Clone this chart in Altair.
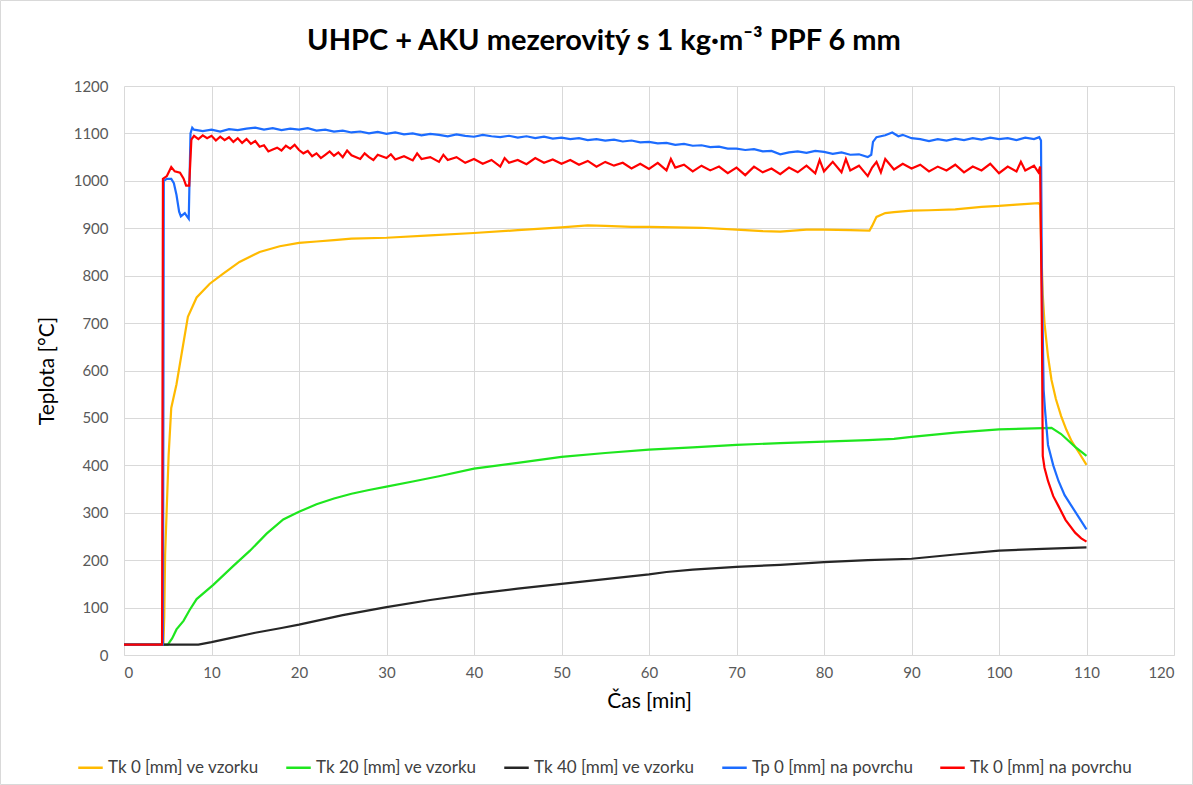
import altair as alt
import pandas as pd

series_names = [
    "Tk 0 [mm] ve vzorku",
    "Tk 20 [mm] ve vzorku",
    "Tk 40 [mm] ve vzorku",
    "Tp 0 [mm] na povrchu",
    "Tk 0 [mm] na povrchu",
]
series_colors = ["#FFBA00", "#1EE61E", "#262626", "#1C6CFF", "#FF0000"]

orange_t = [0, 4.5, 4.6, 4.7, 5.1, 5.4, 6.0, 6.6, 7.3, 8.3, 9.8, 11.3, 13.2, 15.5, 17.8, 20, 22, 24, 26, 30,
            35, 40, 45, 50, 53, 55, 58, 60, 63, 66, 70, 73, 75, 78, 80, 83, 85.2, 85.5, 86, 87, 88, 90, 92, 95,
            98, 100, 102, 104.5, 104.7, 104.8, 105.0, 105.2, 105.6, 106, 106.5, 107.1, 107.7, 108.3, 109.2, 110]
orange_v = [22, 22, 80, 212, 421, 521, 571, 637, 713, 754, 783, 804, 829, 850, 862, 869, 872, 875, 878, 880,
            885, 890, 896, 902, 906, 905, 903, 903, 902, 901, 897, 894, 893, 897, 897, 896, 895, 905, 924, 932,
            934, 937, 938, 940, 945, 947, 950, 953, 950, 880, 760, 700, 630, 580, 540, 504, 475, 451, 425, 401]

green_t = [0, 5.0, 5.5, 6.0, 6.8, 7.5, 8.3, 10.2, 12.5, 14.4, 16.3, 18.2, 20, 22, 24, 26, 28, 30, 33, 36, 40,
           45, 50, 55, 60, 65, 70, 75, 80, 85, 88, 90, 95, 100, 104, 106, 107.1, 108.7, 110]
green_v = [22, 22, 35, 54, 72, 95, 118, 148, 188, 220, 256, 286, 302, 318, 330, 340, 348, 355, 366, 377, 393,
           405, 418, 426, 433, 438, 443, 447, 450, 453, 456, 460, 469, 476, 478, 479, 466, 439, 420]

black_t = [0, 8.5, 10, 12, 15, 18, 20, 25, 30, 35, 40, 45, 50, 55, 60, 62, 65, 70, 75, 80, 85, 90, 95, 100,
           105, 110]
black_v = [22, 22, 27, 35, 47, 57, 64, 84, 101, 116, 129, 140, 150, 160, 170, 175, 180, 186, 190, 196, 200,
           203, 212, 220, 224, 227]

blue_t = [0, 4.45, 4.55, 4.9, 5.4, 5.7, 6.0, 6.3, 6.5, 6.95, 7.2, 7.4, 7.6, 7.8,
          8, 9, 10, 11, 12, 13, 14, 15, 16, 17, 18, 19, 20, 21, 22, 23, 24, 25, 26, 27, 28, 29, 30,
          31, 32, 33, 34, 35, 36, 37, 38, 39, 40, 41, 42, 43, 44, 45, 46, 47, 48, 49, 50,
          51, 52, 53, 54, 55, 56, 57, 58, 59, 60, 61, 62, 63, 64, 65, 66, 67, 68, 69, 70,
          71, 72, 73, 74, 75, 76, 77, 78, 79, 80, 81, 82, 83, 84, 85, 85.4, 85.6, 86, 87, 87.8, 88.5, 89, 90,
          91, 92, 93, 94, 95, 96, 97, 98, 99, 100, 101, 102, 103, 104, 104.6, 104.8, 104.9, 105.1, 105.25,
          105.6, 106.2, 106.8, 107.5, 108.3, 109.2, 110]
blue_v = [22, 22, 1000, 1004, 1004, 995, 970, 935, 925, 932, 925, 920, 1100, 1112,
          1108, 1105, 1108, 1104, 1109, 1107, 1110, 1112, 1108, 1111, 1107, 1110, 1108, 1111, 1106, 1108, 1104,
          1106, 1102, 1104, 1100, 1103, 1099,
          1102, 1098, 1100, 1096, 1099, 1097, 1094, 1098, 1095, 1093, 1097, 1094, 1092, 1095, 1091, 1094, 1090,
          1093, 1089, 1091,
          1088, 1090, 1086, 1088, 1085, 1087, 1083, 1085, 1081, 1082, 1079, 1080, 1076, 1078, 1074, 1075, 1071,
          1072, 1068, 1068,
          1065, 1067, 1062, 1063, 1056, 1060, 1062, 1059, 1063, 1061, 1057, 1060, 1055, 1056, 1050, 1055, 1082,
          1092, 1096, 1102, 1094, 1097, 1090,
          1088, 1084, 1088, 1085, 1089, 1086, 1090, 1087, 1091, 1088, 1090, 1086, 1091, 1088, 1092, 1085, 800,
          560, 519,
          443, 400, 367, 337, 314, 288, 265]

red_t = [0, 4.35, 4.45, 4.9, 5.4, 5.8, 6.4, 6.8, 7.1, 7.45, 7.7, 8,
         8.5, 9, 9.5, 10, 10.5, 11, 11.5, 12, 12.5, 13, 13.5, 14, 14.5, 15, 15.5, 16, 16.5, 17, 17.5, 18, 18.5,
         19, 19.5, 20, 20.5, 21, 21.5, 22, 22.5, 23, 23.5, 24, 24.5, 25, 25.5, 26, 27, 27.5, 28, 28.5, 29, 30,
         30.5, 31, 32, 33, 33.5, 34, 35, 36, 36.5, 37, 38, 39, 40, 41, 42, 43, 43.5, 44, 45, 46, 47, 48, 49, 50,
         51, 52, 53, 54, 55, 56, 57, 58, 59, 60, 61, 62, 62.5, 63, 64, 65, 66, 67, 68, 69, 70, 71, 72, 73, 74,
         75, 76, 77, 78, 79, 79.5, 80, 81, 82, 82.5, 83, 84, 85, 85.5, 86, 86.5, 87, 88, 89, 90, 91, 92, 93, 94,
         95, 96, 97, 98, 99, 100, 101, 102, 102.5, 103, 104, 104.5, 104.7, 104.9, 105.0, 105.2, 105.6, 106.2,
         106.8, 107.6, 108.7, 109.4, 110]
red_v = [22, 22, 1004, 1010, 1029, 1020, 1017, 1005, 990, 990, 1087, 1095,
         1088, 1096, 1090, 1095, 1085, 1093, 1086, 1092, 1082, 1090, 1080, 1088, 1078, 1084, 1072, 1075, 1062,
         1066, 1070, 1064, 1074, 1068, 1076, 1065, 1058, 1063, 1052, 1058, 1048, 1055, 1062, 1053, 1060, 1050,
         1064, 1054, 1046, 1058, 1050, 1044, 1055, 1048, 1056, 1045, 1052, 1043, 1058, 1046, 1050, 1040, 1055,
         1044, 1050, 1038, 1046, 1036, 1044, 1030, 1048, 1038, 1044, 1035, 1048, 1038, 1045, 1036, 1044, 1034,
         1042, 1030, 1040, 1032, 1038, 1026, 1036, 1025, 1038, 1022, 1046, 1028, 1034, 1020, 1032, 1022, 1030,
         1016, 1028, 1012, 1030, 1018, 1026, 1014, 1028, 1018, 1032, 1016, 1044, 1020, 1040, 1018, 1046, 1022,
         1032, 1010, 1028, 1040, 1018, 1046, 1024, 1036, 1026, 1034, 1020, 1030, 1022, 1034, 1018, 1030, 1022,
         1036, 1016, 1030, 1020, 1040, 1022, 1032, 1018, 1030, 700, 420, 395, 367, 335, 314, 285, 258, 246, 239]

x_ticks = list(range(0, 121, 10))
y_ticks = list(range(0, 1201, 100))

all_t = [orange_t, green_t, black_t, blue_t, red_t]
all_v = [orange_v, green_v, black_v, blue_v, red_v]
rows = []
for name, ts, vs in zip(series_names, all_t, all_v):
    for i, (t, v) in enumerate(zip(ts, vs)):
        rows.append({"series": name, "t": t, "T": v, "i": i})
df = pd.DataFrame(rows)

FONT = "Lato"
color_scale = alt.Scale(domain=series_names, range=series_colors)

base = alt.Chart(df).mark_line(strokeWidth=2.2).encode(
    x=alt.X("t:Q", scale=alt.Scale(domain=[0, 120], nice=False),
            axis=alt.Axis(values=x_ticks, title="Čas [min]", format="d")),
    y=alt.Y("T:Q", scale=alt.Scale(domain=[0, 1200], nice=False),
            axis=alt.Axis(values=y_ticks, title="Teplota [°C]", format="d")),
    color=alt.Color("series:N", scale=color_scale, sort=series_names,
                    legend=alt.Legend(title=None, orient="none", direction="horizontal",
                                      legendX=-47, legendY=668, symbolType="stroke",
                                      symbolStrokeWidth=2.5, symbolSize=600,
                                      labelFontSize=17, labelFont=FONT, labelColor="#404040",
                                      labelLimit=400, columnPadding=22, labelOffset=4)),
    order="i:Q",
)

layers = [base.transform_filter(alt.datum.series == n) for n in series_names]

frame_df = pd.DataFrame({"k": [0]})
frame = alt.Chart(frame_df).mark_rect(fillOpacity=0, stroke="#D9D9D9", strokeWidth=1).encode(
    x=alt.value(-123.5), x2=alt.value(1068.5), y=alt.value(-85.5), y2=alt.value(698.5)
)

chart = alt.layer(frame, *layers).properties(
    width=1050, height=569,
    padding={"left": 124, "top": 86, "right": 19, "bottom": 130},
    autosize=alt.AutoSizeParams(type="none"),
    background="white",
    title=alt.TitleParams(text=["UHPC + AKU mezerovitý s 1 kg·m⁻³ PPF 6 mm"], fontSize=29, font=FONT,
                          fontWeight="bold", color="#000000", anchor="middle", frame="group",
                          dx=-45, offset=-56),
).configure_view(strokeWidth=0).configure_axis(
    grid=True, gridColor="#D9D9D9", gridWidth=1, ticks=False, domain=False,
    labelFont=FONT, labelFontSize=15, labelColor="#595959", titleFont=FONT, titleFontSize=21,
    titleFontWeight="normal", titleColor="#000000",
).configure_axisX(domain=True, domainColor="#D9D9D9", labelPadding=10, titlePadding=10
).configure_axisY(labelPadding=16, titlePadding=16)

chart.save("out.html", embed_options={"renderer": "svg", "actions": False})
